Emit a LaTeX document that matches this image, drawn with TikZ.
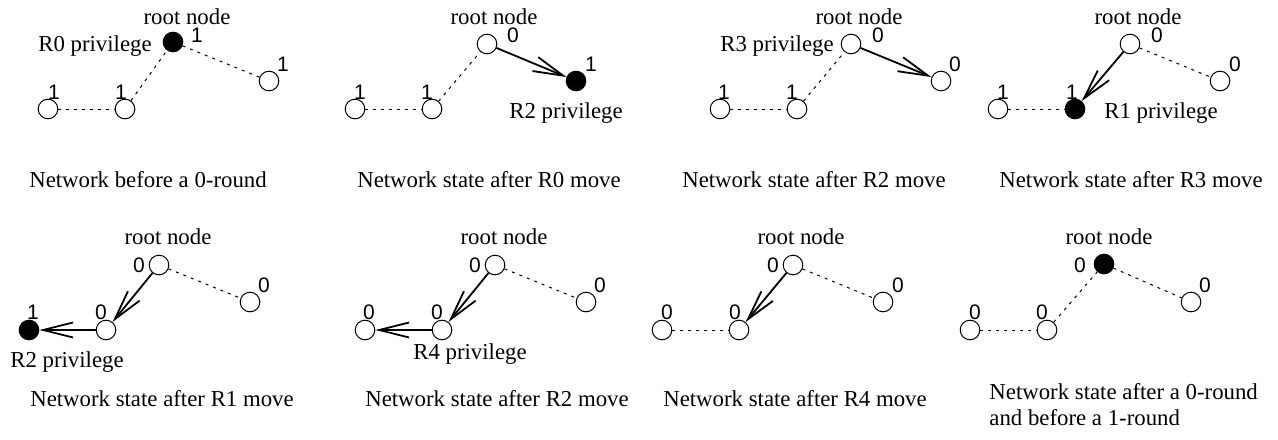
\documentclass[tikz,border=0pt]{standalone}
\usepackage{fontspec}
\setmainfont{Liberation Serif}
\newfontfamily\digitfont{Liberation Sans}
\usetikzlibrary{arrows.meta,positioning}

\begin{document}
\begin{tikzpicture}[
  x=0.5pt, y=-0.5pt,
  vtx/.style={draw, circle, minimum size=9.8pt, inner sep=0pt, line width=0.5pt},
  tok/.style={vtx, fill=black},
  num/.style={inner sep=0pt, font=\digitfont\fontsize{10.5}{12}\selectfont},
  txt/.style={inner sep=0pt, font=\fontsize{11.4}{13}\selectfont},
  link/.style={line width=0.5pt, dash pattern=on 1.5pt off 2.5pt},
  move/.style={-{Straight Barb[length=15pt,width=7.5pt]}, line width=0.9pt}
]
\useasboundingbox (0,0) rectangle (1278,439);

% Panel 1
\node[vtx] (a1) at (48,109)  {};
\node[vtx] (b1) at (125,109) {};
\node[tok] (r1) at (173,42)  {};
\node[vtx] (c1) at (269,81)  {};
\node[num] (na1) at (54,92)  {1};
\node[num] (nb1) at (121,92) {1};
\node[num] (nr1) at (197,35) {1};
\node[num] (nc1) at (283,64) {1};
\node[txt] (root1) at (187,17) {root node};
\node[txt] (priv1) at (95,46)  {R0 privilege};
\node[txt] (cap1)  at (148,180) {Network before a 0-round};

% Panel 2
\node[vtx] (a2) at (355,109) {};
\node[vtx] (b2) at (432,109) {};
\node[vtx] (r2) at (487,44)  {};
\node[tok] (c2) at (576,81)  {};
\node[num] (na2) at (360,92) {1};
\node[num] (nb2) at (427,92) {1};
\node[num] (nr2) at (513,35) {0};
\node[num] (nc2) at (591,64) {1};
\node[txt] (root2) at (494,17)  {root node};
\node[txt] (priv2) at (566,113) {R2 privilege};
\node[txt] (cap2)  at (489,180) {Network state after R0 move};

% Panel 3
\node[vtx] (a3) at (720,109) {};
\node[vtx] (b3) at (797,109) {};
\node[vtx] (r3) at (851,44)  {};
\node[vtx] (c3) at (941,81)  {};
\node[num] (na3) at (724,92) {1};
\node[num] (nb3) at (792,92) {1};
\node[num] (nr3) at (878,35) {0};
\node[num] (nc3) at (955,64) {0};
\node[txt] (root3) at (859,17) {root node};
\node[txt] (priv3) at (777,46) {R3 privilege};
\node[txt] (cap3)  at (814,180) {Network state after R2 move};

% Panel 4
\node[vtx] (a4) at (998,109)  {};
\node[tok] (b4) at (1075,109) {};
\node[vtx] (r4) at (1130,44)  {};
\node[vtx] (c4) at (1220,81)  {};
\node[num] (na4) at (1003,92) {1};
\node[num] (nb4) at (1072,92) {1};
\node[num] (nr4) at (1157,35) {0};
\node[num] (nc4) at (1235,64) {0};
\node[txt] (root4) at (1138,17)  {root node};
\node[txt] (priv4) at (1161,113) {R1 privilege};
\node[txt] (cap4)  at (1131,180) {Network state after R3 move};

% Panel 5
\node[tok] (a5) at (29,330)  {};
\node[vtx] (b5) at (106,330) {};
\node[vtx] (r5) at (159,265) {};
\node[vtx] (c5) at (250,302) {};
\node[num] (na5) at (33,312)  {1};
\node[num] (nb5) at (101,312) {0};
\node[num] (nr5) at (139,265) {0};
\node[num] (nc5) at (264,285) {0};
\node[txt] (root5) at (168,237) {root node};
\node[txt] (priv5) at (67,362)  {R2 privilege};
\node[txt] (cap5)  at (162,399) {Network state after R1 move};

% Panel 6
\node[vtx] (a6) at (365,330) {};
\node[vtx] (b6) at (442,330) {};
\node[vtx] (r6) at (495,265) {};
\node[vtx] (c6) at (586,302) {};
\node[num] (na6) at (369,312) {0};
\node[num] (nb6) at (437,312) {0};
\node[num] (nr6) at (475,265) {0};
\node[num] (nc6) at (600,285) {0};
\node[txt] (root6) at (504,237) {root node};
\node[txt] (priv6) at (470,354) {R4 privilege};
\node[txt] (cap6)  at (497,399) {Network state after R2 move};

% Panel 7
\node[vtx] (a7) at (662,330) {};
\node[vtx] (b7) at (739,330) {};
\node[vtx] (r7) at (793,265) {};
\node[vtx] (c7) at (883,302) {};
\node[num] (na7) at (667,312) {0};
\node[num] (nb7) at (735,312) {0};
\node[num] (nr7) at (773,265) {0};
\node[num] (nc7) at (898,285) {0};
\node[txt] (root7) at (801,237) {root node};
\node[txt] (cap7)  at (795,399) {Network state after R4 move};

% Panel 8
\node[vtx] (a8) at (970,330)  {};
\node[vtx] (b8) at (1047,330) {};
\node[tok] (r8) at (1104,264) {};
\node[vtx] (c8) at (1191,302) {};
\node[num] (na8) at (975,312)  {0};
\node[num] (nb8) at (1042,312) {0};
\node[num] (nr8) at (1080,265) {0};
\node[num] (nc8) at (1205,285) {0};
\node[txt] (root8) at (1109,237) {root node};
\node[txt, anchor=west, align=left] (cap8) at (989,405)
  {Network state after a 0-round\\and before a 1-round};

% Edges
\draw[link] (a1) -- (b1);
\draw[link] (b1) -- (r1);
\draw[link] (r1) -- (c1);

\draw[link] (a2) -- (b2);
\draw[link] (b2) -- (r2);
\draw[move] (r2) -- (c2);

\draw[link] (a3) -- (b3);
\draw[link] (b3) -- (r3);
\draw[move] (r3) -- (c3);

\draw[link] (a4) -- (b4);
\draw[move] (r4) -- (b4);
\draw[link] (r4) -- (c4);

\draw[move] (r5) -- (b5);
\draw[move] (b5) -- (a5);
\draw[link] (r5) -- (c5);

\draw[move] (r6) -- (b6);
\draw[move] (b6) -- (a6);
\draw[link] (r6) -- (c6);

\draw[link] (a7) -- (b7);
\draw[move] (r7) -- (b7);
\draw[link] (r7) -- (c7);

\draw[link] (a8) -- (b8);
\draw[link] (b8) -- (r8);
\draw[link] (r8) -- (c8);

\end{tikzpicture}
\end{document}
